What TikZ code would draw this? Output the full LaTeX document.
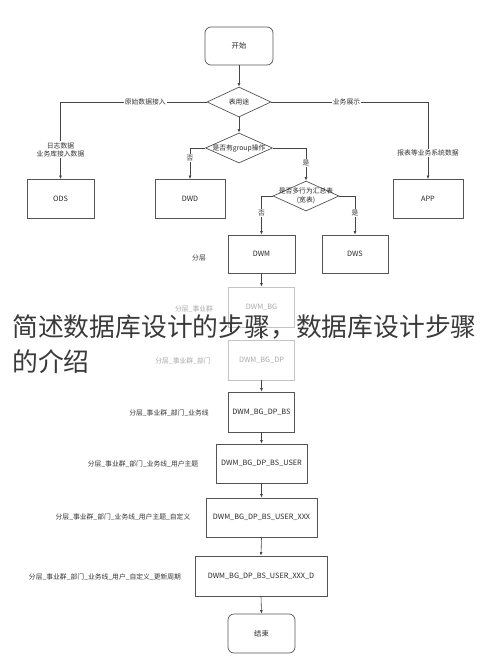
\documentclass[tikz,border=0pt]{standalone}
\usepackage{fontspec}
\setmainfont{Noto Sans CJK SC}
\usetikzlibrary{shapes.geometric,arrows.meta}
\definecolor{ln}{HTML}{444444}
\definecolor{bx}{HTML}{555555}
\definecolor{fade}{HTML}{C4C4C4}
\definecolor{fadetxt}{HTML}{A8A8A8}
\definecolor{ttl}{HTML}{3A3A3A}
\begin{document}
\begin{tikzpicture}[x=1pt,y=-1pt,
  box/.style={draw=bx, line width=0.7pt, minimum width=#1, minimum height=39pt, inner sep=0pt, text=black!85, font=\fontsize{7.3}{9}\selectfont},
  box/.default=67pt,
  rbox/.style={box=#1, rounded corners=6pt},
  rbox/.default=67pt,
  fbox/.style={box=#1, draw=fade, text=fadetxt},
  fbox/.default=66pt,
  dia/.style={diamond, draw=bx, line width=0.7pt, inner sep=0pt, minimum width=#1, minimum height=30pt},
  dia/.default=66pt,
  dtxt/.style={inner sep=0pt, align=center, text=black!85, font=\fontsize{6.8}{8.5}\selectfont},
  arr/.style={draw=ln, line width=0.6pt, -{Latex[length=3.5pt,width=2.8pt]}},
  lab/.style={fill=white, inner sep=1pt, align=center, text=black!80, font=\fontsize{6.8}{8.5}\selectfont},
  side/.style={inner sep=0pt, text=black!80, font=\fontsize{6.8}{8.5}\selectfont},
  fside/.style={side, text=fadetxt},
  ttlstyle/.style={inner sep=0pt, anchor=base west, text=ttl, font=\fontsize{25.8}{30}\selectfont}
]
\useasboundingbox (0,0) rectangle (490,671);

% nodes
\node[rbox=68pt, minimum height=38pt] (start) at (239,46) {开始};
\node[dia=64pt] (d1) at (239,102) {};
\node[dtxt] (d1t) at (d1) {表用途};
\node[box] (ods) at (60.5,199) {ODS};
\node[box=70pt] (app) at (428,199) {APP};
\node[dia=67pt] (d2) at (239,148) {};
\node[dtxt] (d2t) at (d2) {是否有group操作};
\node[box=70pt] (dwd) at (190,199) {DWD};
\node[dia=66pt] (d3) at (306,196) {};
\node[dtxt] (d3t) at (d3) {是否多行为汇总表\\(宽表)};
\node[box, minimum height=38pt] (dwm) at (261.5,254) {DWM};
\node[box=66pt, minimum height=38pt] (dws) at (355,254) {DWS};
\node[fbox, minimum height=40pt] (bg) at (261.5,307) {DWM\_BG};
\node[fbox, minimum height=40pt] (bgdp) at (261.5,360) {DWM\_BG\_DP};
\node[box=66pt, minimum height=40pt] (bs) at (261.5,412) {DWM\_BG\_DP\_BS};
\node[box=91pt] (user) at (261.5,463.5) {DWM\_BG\_DP\_BS\_USER};
\node[box=111pt] (xxx) at (261.5,517.5) {DWM\_BG\_DP\_BS\_USER\_XXX};
\node[box=132pt, minimum height=40pt] (dd) at (261,576) {DWM\_BG\_DP\_BS\_USER\_XXX\_D};
\node[rbox] (end) at (261.5,633.5) {结束};

% side labels
\node[side] (l1) at (199,258) {分层};
\node[fside] (l2) at (194,309) {分层\_事业群};
\node[fside] (l3) at (183,361) {分层\_事业群\_部门};
\node[side] (l4) at (169,413) {分层\_事业群\_部门\_业务线};
\node[side] (l5) at (143,464) {分层\_事业群\_部门\_业务线\_用户主题};
\node[side] (l6) at (123,517) {分层\_事业群\_部门\_业务线\_用户主题\_自定义};
\node[side] (l7) at (105,577) {分层\_事业群\_部门\_业务线\_用户\_自定义\_更新周期};

% connectors
\draw[arr] (start.south) -- (d1.north);
\draw[arr] (d1.west) -| node[lab, pos=0.21] {原始数据接入} node[lab, pos=0.81] {日志数据\\业务库接入数据} (ods.north);
\draw[arr] (d1.east) -| node[lab, pos=0.24] {业务展示} node[lab, pos=0.83] {报表等业务系统数据} (app.north);
\draw[arr] (d1.south) -- (d2.north);
\draw[arr] (d2.west) -| node[lab, pos=0.66] {否} (dwd.north);
\draw[arr] (d2.east) -| node[lab, pos=0.73] {是} (d3.north);
\draw[arr] (d3.west) -| node[lab, pos=0.72] {否} (dwm.north);
\draw[arr] (d3.east) -| node[lab, pos=0.72] {是} (dws.north);
\draw[arr] (dwm.south) -- (bg.north);
\draw[arr] (bg.south) -- (bgdp.north);
\draw[arr] (bgdp.south) -- (bs.north);
\draw[arr] (bs.south) -- (user.north);
\draw[arr] (user.south) -- (xxx.north);
\draw[arr] (xxx.south) -- (dd.north);
\draw[arr] (dd.south) -- (end.north);

% overlay title
\node[ttlstyle] (t1) at (12,336) {简述数据库设计的步骤，数据库设计步骤};
\node[ttlstyle] (t2) at (12,371) {的介绍};
\end{tikzpicture}
\end{document}
